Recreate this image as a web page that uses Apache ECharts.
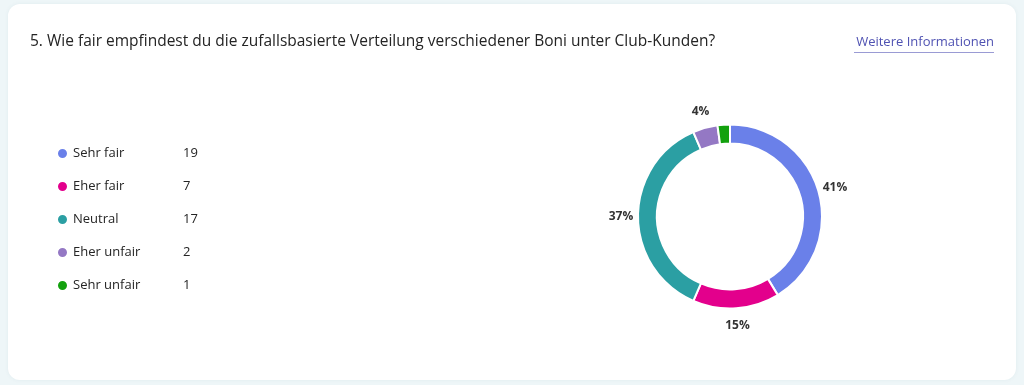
<!DOCTYPE html>
<html>
<head>
<meta charset="utf-8">
<script src="https://cdn.jsdelivr.net/npm/echarts@6/dist/echarts.min.js"></script>
<style>
html,body{margin:0;padding:0;background:#eef6f8;}
#c{width:1024px;height:385px;}
</style>
</head>
<body>
<div id="c"></div>
<script>
const titleText = '5. Wie fair empfindest du die zufallsbasierte Verteilung verschiedener Boni unter Club-Kunden?';
const linkText = 'Weitere Informationen';
const categories = ['Sehr fair', 'Eher fair', 'Neutral', 'Eher unfair', 'Sehr unfair'];
const values = [19, 7, 17, 2, 1];
const colors = ['#6a80e9', '#e3008c', '#2b9fa3', '#9478c4', '#13a10e'];

const FONT = '"Open Sans", "Noto Sans", sans-serif';
const chart = echarts.init(document.getElementById('c'), null, {renderer: 'canvas'});
const data = categories.map((n, i) => ({name: n, value: values[i]}));
const valueOf = {};
categories.forEach((n, i) => valueOf[n] = values[i]);

chart.setOption({
  backgroundColor: 'transparent',
  color: colors,
  animation: false,
  graphic: [
    {type: 'rect', z: -10, shape: {x: 8, y: 4, width: 1008, height: 376, r: 12},
     style: {fill: '#ffffff', shadowBlur: 4, shadowColor: 'rgba(0,80,100,0.06)'}},
    {type: 'text', left: 30, top: 34, style: {text: titleText, font: '15.5px ' + FONT, fill: '#242424'}},
    {type: 'text', right: 30, top: 36, style: {text: linkText, font: '13px ' + FONT, fill: '#4f52b2'}},
    {type: 'rect', right: 30, top: 52, shape: {width: 140, height: 1}, style: {fill: '#9a9bd4'}}
  ],
  legend: {
    orient: 'vertical',
    left: 51,
    top: 142,
    itemWidth: 11,
    itemHeight: 11,
    itemGap: 20,
    icon: 'circle',
    data: categories,
    formatter: name => '{n|' + name + '}{v|' + valueOf[name] + '}',
    textStyle: {
      fontFamily: FONT,
      rich: {
        n: {width: 110, fontSize: 13, lineHeight: 16, color: '#242424'},
        v: {fontSize: 13, lineHeight: 16, color: '#242424'}
      }
    },
    selectedMode: false
  },
  series: [
    {
      type: 'pie',
      center: [730, 216.5],
      radius: [73, 92],
      startAngle: 90,
      clockwise: true,
      data: data,
      label: {show: false},
      labelLine: {show: false},
      itemStyle: {borderColor: '#ffffff', borderWidth: 2},
      emphasis: {disabled: true},
      silent: true
    },
    {
      type: 'pie',
      center: [730, 216.5],
      radius: [92, 120],
      startAngle: 90,
      clockwise: true,
      data: data,
      itemStyle: {color: 'rgba(0,0,0,0)'},
      label: {
        show: true,
        position: 'inside',
        fontFamily: FONT,
        fontSize: 12,
        fontWeight: 'bold',
        color: '#333333',
        formatter: p => p.percent < 3 ? '' : Math.round(p.percent) + '%'
      },
      labelLine: {show: false},
      emphasis: {disabled: true},
      silent: true,
      legendHoverLink: false
    }
  ]
});
</script>
</body>
</html>
